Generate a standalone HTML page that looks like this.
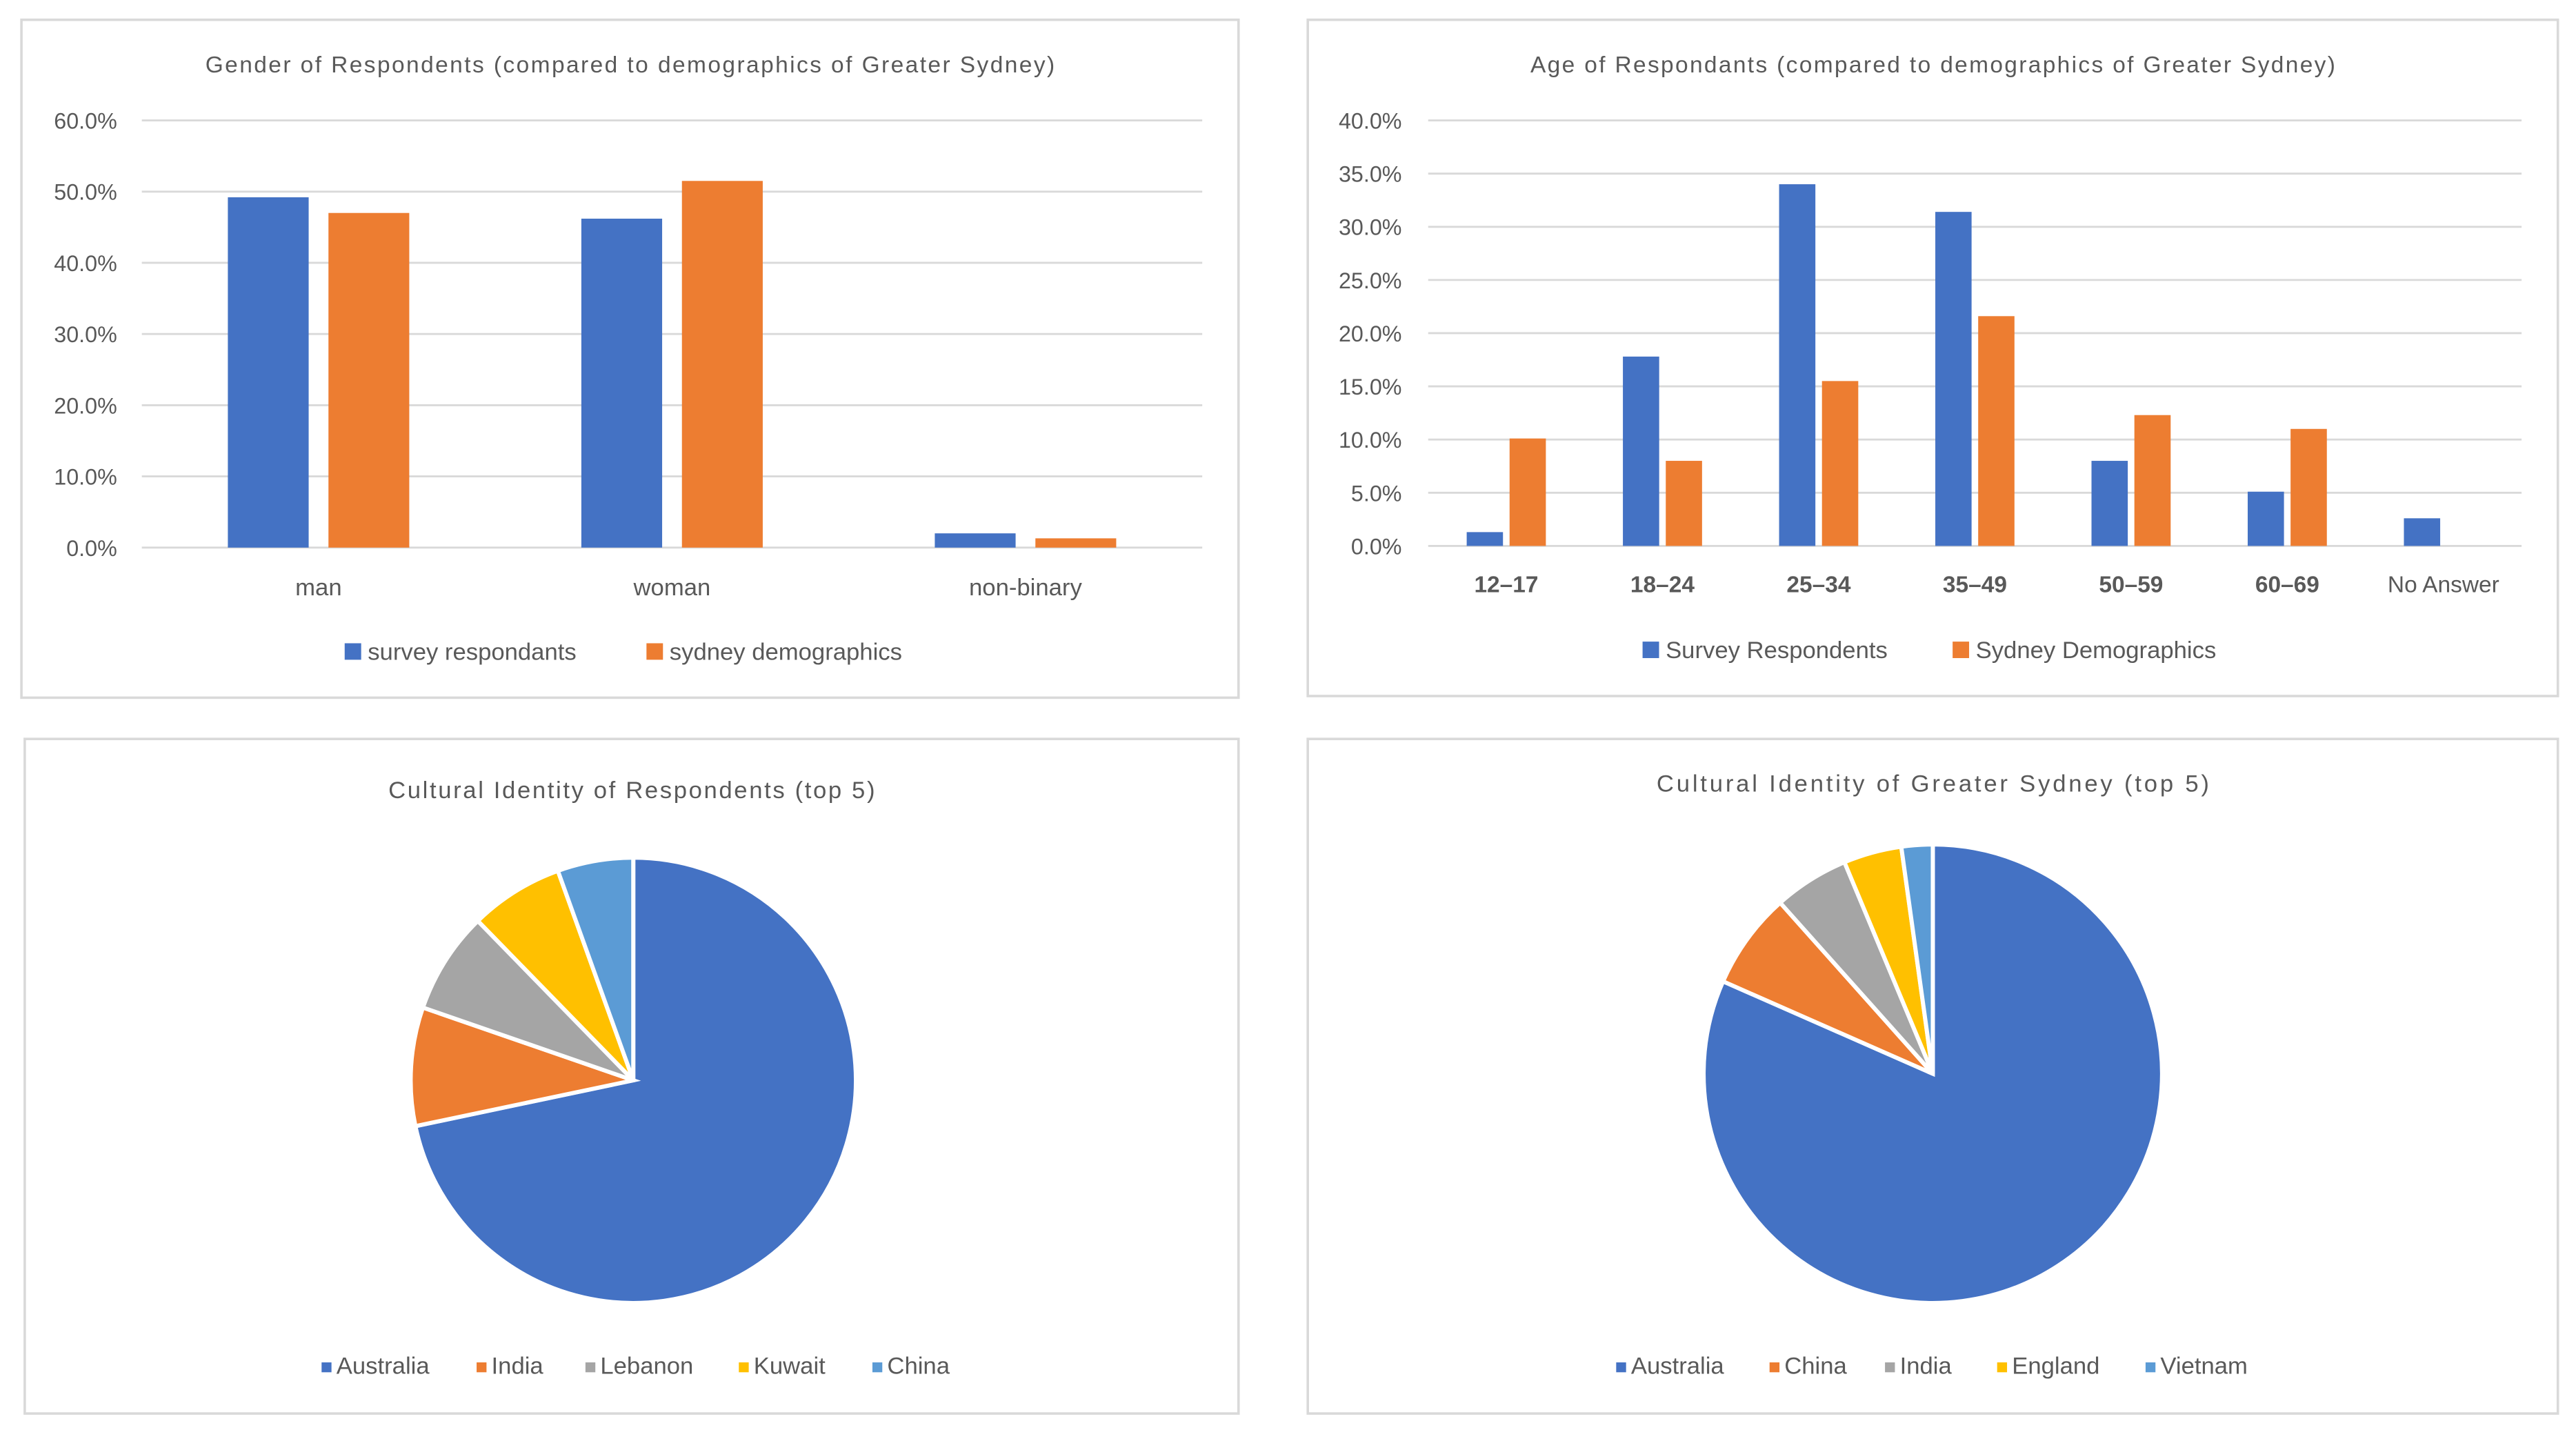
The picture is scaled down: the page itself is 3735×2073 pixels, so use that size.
<!DOCTYPE html>
<html><head><meta charset="utf-8"><style>
html,body{margin:0;padding:0;background:#fff}
svg{display:block}
text{font-family:"Liberation Sans",sans-serif;fill:#595959}
</style></head><body>
<svg id="root" width="3735" height="2073" viewBox="0 0 1562 867" preserveAspectRatio="none">
<rect x="13" y="12" width="738" height="411" fill="#fff" stroke="#d9d9d9" stroke-width="1.5"/>
<rect x="793" y="12" width="758" height="410" fill="#fff" stroke="#d9d9d9" stroke-width="1.5"/>
<rect x="15" y="448" width="736" height="409" fill="#fff" stroke="#d9d9d9" stroke-width="1.5"/>
<rect x="793" y="448" width="758" height="409" fill="#fff" stroke="#d9d9d9" stroke-width="1.5"/>
<text x="382" y="44" text-anchor="middle" font-size="14" textLength="515">Gender of Respondents (compared to demographics of Greater Sydney)</text>
<text x="1172" y="44" text-anchor="middle" font-size="14" textLength="488">Age of Respondants (compared to demographics of Greater Sydney)</text>
<text x="383" y="484" text-anchor="middle" font-size="14.5" textLength="295">Cultural Identity of Respondents (top 5)</text>
<text x="1172" y="480" text-anchor="middle" font-size="14.5" textLength="335">Cultural Identity of Greater Sydney (top 5)</text>
<g id="g1"></g><g id="g2"></g><g id="g3"></g><g id="g4"></g>
</svg>
<script>
const genderCats=["man","woman","non-binary"];
const genderSurvey=[49.2,46.2,2.0];
const genderSydney=[47.0,51.5,1.3];
const genderTicks=[0,10,20,30,40,50,60];
const ageCats=["12–17","18–24","25–34","35–49","50–59","60–69","No Answer"];
const ageSurvey=[1.3,17.8,34.0,31.4,8.0,5.1,2.6];
const ageSydney=[10.1,8.0,15.5,21.6,12.3,11.0,null];
const ageTicks=[0,5,10,15,20,25,30,35,40];
const respLabels=["Australia","India","Lebanon","Kuwait","China"];
const respValues=[71.7,8.6,7.4,6.8,5.5];
const sydLabels=["Australia","China","India","England","Vietnam"];
const sydValues=[81.6,6.8,5.3,4.1,2.2];
const BLUE="#4472c4",ORANGE="#ed7d31";
const PIECOL=["#4472c4","#ed7d31","#a5a5a5","#ffc000","#5b9bd5"];
const NS="http://www.w3.org/2000/svg";
function mk(parent,tag,attrs,txt){const e=document.createElementNS(NS,tag);for(const k in attrs)e.setAttribute(k,attrs[k]);if(txt!=null)e.textContent=txt;parent.appendChild(e);return e;}

function barChart(g,o){
  const y=v=>o.y0-(v/o.max)*(o.y0-o.yTop);
  o.ticks.forEach(t=>{
    const l=mk(g,"line",{x1:o.x0,x2:o.x1,y1:y(t),y2:y(t),stroke:"#d9d9d9","stroke-width":1.2});
    
    
    const tx=mk(g,"text",{x:o.labX,y:y(t)+5,"text-anchor":"end","font-size":13.5},t.toFixed(1)+"%");
    
    
  });
  const step=(o.x1-o.x0)/o.cats.length;
  o.cats.forEach((c,i)=>{
    const cx=o.x0+step*(i+0.5);
    [[o.s1,BLUE,-1],[o.s2,ORANGE,1]].forEach(([s,col,d])=>{
      const v=s[i]; if(v==null)return;
      const bx=d<0?cx-o.gap/2-o.bw:cx+o.gap/2;
      const r=mk(g,"rect",{x:bx,y:y(v),width:o.bw,height:o.y0-y(v),fill:col});
      
      
    });
    const lab=mk(g,"text",{x:cx,y:o.catY,"text-anchor":"middle","font-size":o.catSize,"font-weight":(o.bold&&c!=="No Answer")?"bold":"normal"},c);
    
    
  });
  o.legend.forEach(([lx,txt,col])=>{
    const s=mk(g,"rect",{x:lx,y:o.legY-10,width:10,height:10,fill:col});
    
    
    const t=mk(g,"text",{x:lx+14,y:o.legY,"font-size":14.5},txt);
    
    
  });
}
barChart(document.getElementById('g1'),{x0:86,x1:729,y0:332,yTop:73,max:60,ticks:genderTicks,labX:71,cats:genderCats,s1:genderSurvey,s2:genderSydney,bw:49,gap:12,catY:361,catSize:14.5,bold:false,legY:400,legend:[[209,"survey respondants",BLUE],[392,"sydney demographics",ORANGE]]});
barChart(document.getElementById('g2'),{x0:866,x1:1529,y0:331,yTop:73,max:40,ticks:ageTicks,labX:850,cats:ageCats,s1:ageSurvey,s2:ageSydney,bw:22,gap:4,catY:359,catSize:14,bold:true,legY:399,legend:[[996,"Survey Respondents",BLUE],[1184,"Sydney Demographics",ORANGE]]});

function pie(g,o){
  const tot=o.vals.reduce((a,b)=>a+b,0);let a0=0;
  o.vals.forEach((v,i)=>{
    const a1=a0+v/tot*2*Math.PI;
    const p=(a)=>[o.cx+o.r*Math.sin(a),o.cy-o.r*Math.cos(a)];
    const [x0,y0]=p(a0),[x1,y1]=p(a1);
    const large=(a1-a0)>Math.PI?1:0;
    const path=mk(g,"path",{d:`M${o.cx},${o.cy}L${x0},${y0}A${o.r},${o.r} 0 ${large} 1 ${x1},${y1}Z`,fill:PIECOL[i],stroke:"#fff","stroke-width":2.5});
    
    
    a0=a1;
  });
  o.leg.forEach((lx,i)=>{
    const s=mk(g,"rect",{x:lx-3,y:o.legY-7,width:6,height:6,fill:PIECOL[i]});
    
    
    const t=mk(g,"text",{x:lx+6,y:o.legY,"font-size":14.5},o.labels[i]);
    
    
  });
}
pie(document.getElementById('g3'),{cx:384,cy:655,r:135,vals:respValues,labels:respLabels,legY:833,leg:[198,292,358,451,532]});
pie(document.getElementById('g4'),{cx:1172,cy:651,r:139,vals:sydValues,labels:sydLabels,legY:833,leg:[983,1076,1146,1214,1304]});
</script>
</body></html>
